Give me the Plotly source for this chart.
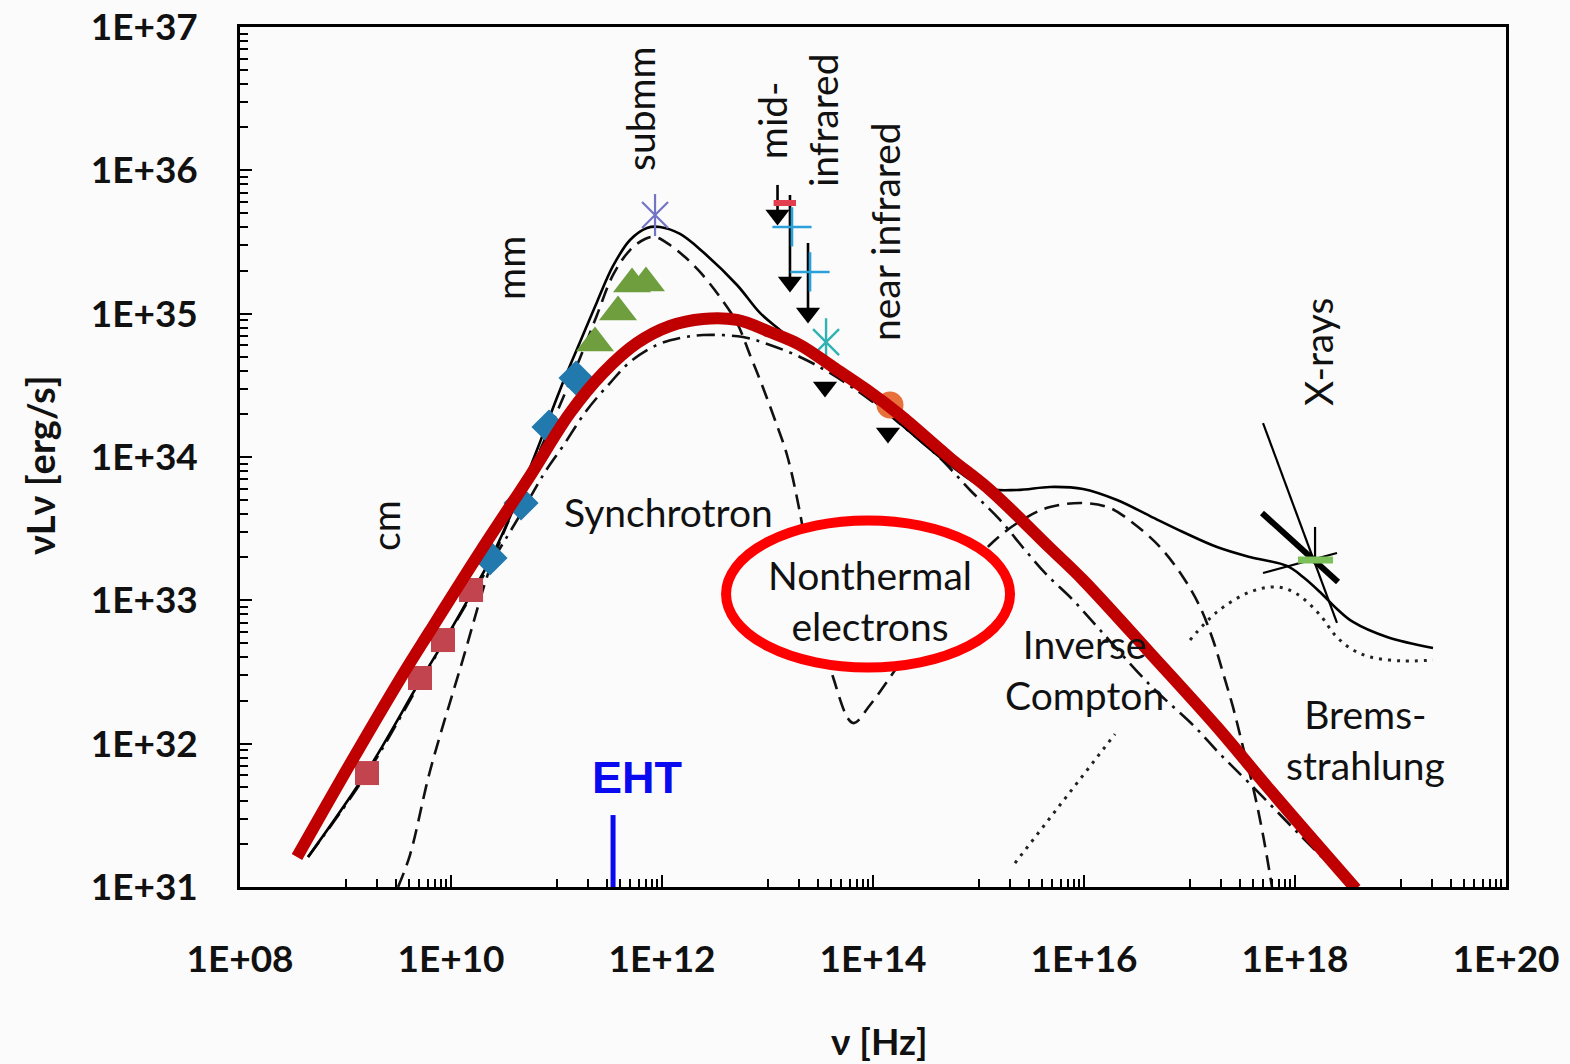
import plotly.graph_objects as go

# ---------------- spectral model curves: log10(nu/Hz), log10(nuLnu / erg s^-1) ----------------
total_lognu = [8.645, 9.213, 9.706, 9.924, 10.180, 10.370, 10.607, 10.815, 11.033, 11.223, 11.384,
               11.536, 11.697, 11.858, 11.981, 12.171, 12.389, 12.711, 12.929, 13.118, 13.308, 13.592,
               13.972, 14.351, 14.730, 15.062, 15.365, 15.678, 15.991, 16.313, 16.626, 16.938, 17.261,
               17.573, 17.924, 18.076, 18.237, 18.398, 18.550, 18.872, 19.308]
total_logL = [31.209, 31.816, 32.437, 32.702, 33.030, 33.281, 33.665, 34.049, 34.468, 34.802, 35.082,
              35.333, 35.514, 35.598, 35.605, 35.556, 35.430, 35.200, 35.005, 34.886, 34.768, 34.621,
              34.412, 34.174, 33.944, 33.784, 33.770, 33.791, 33.777, 33.700, 33.588, 33.477, 33.372,
              33.302, 33.240, 33.163, 33.058, 32.940, 32.849, 32.744, 32.667]

# nonthermal-electron synchrotron (dash-dot)
nonth_lognu = [8.645, 9.213, 9.706, 10.180, 10.654, 10.891, 11.062, 11.289, 11.507, 11.697, 11.953,
               12.171, 12.389, 12.768, 13.024, 13.308, 13.592, 13.972, 14.351, 14.635, 14.919, 15.204,
               15.441, 15.649, 15.896, 16.152, 16.626, 17.052, 17.270, 17.555, 18.047, 18.427]
nonth_logL = [31.209, 31.802, 32.423, 33.016, 33.595, 33.895, 34.077, 34.328, 34.516, 34.663, 34.782,
              34.830, 34.851, 34.837, 34.782, 34.698, 34.586, 34.398, 34.174, 33.993, 33.770, 33.561,
              33.351, 33.177, 33.002, 32.793, 32.409, 32.116, 31.942, 31.733, 31.363, 31.084]

# thermal synchrotron + inverse Compton (dashed)
therm_lognu = [9.498, 9.611, 9.801, 10.114, 10.370, 10.626, 10.844, 11.033, 11.223, 11.384, 11.536,
               11.697, 11.839, 11.934, 12.076, 12.218, 12.360, 12.550, 12.711, 12.834, 12.948, 13.071,
               13.185, 13.308, 13.450, 13.621, 13.810, 13.972, 14.190, 14.635, 15.137, 15.460, 15.678,
               15.991, 16.246, 16.464, 16.720, 16.938, 17.100, 17.223, 17.318, 17.412, 17.507, 17.602,
               17.697, 17.782]
therm_logL = [31.000, 31.223, 31.809, 32.591, 33.226, 33.693, 34.049, 34.363, 34.691, 34.991, 35.270,
              35.444, 35.521, 35.535, 35.479, 35.395, 35.291, 35.116, 34.935, 34.712, 34.502, 34.258,
              34.014, 33.609, 33.002, 32.465, 32.144, 32.270, 32.493, 32.967, 33.407, 33.581, 33.651,
              33.679, 33.644, 33.540, 33.372, 33.163, 32.954, 32.723, 32.493, 32.256, 31.977, 31.698,
              31.363, 31.000]

# bremsstrahlung (dotted)
brems_lognu = [15.346, 16.294, None, 17.005, 17.261, 17.573, 17.829, 18.019, 18.237, 18.379,
               18.521, 18.711, 19.024, 19.308]
brems_logL = [31.167, 32.067, None, 32.723, 32.919, 33.058, 33.093, 33.044, 32.898, 32.758,
              32.667, 32.605, 32.577, 32.584]

# simple nonthermal-electron spectrum overlay (thick red)
overlay_lognu = [8.540, 9.043, 9.517, 9.801, 10.275, 10.749, 11.128, 11.441, 11.763, 12.076, 12.389,
                 12.711, 13.024, 13.308, 13.621, 13.943, 14.256, 14.730, 15.109, 15.678, 15.991,
                 16.626, 17.261, 17.763, 18.578]
overlay_logL = [31.209, 31.858, 32.451, 32.786, 33.337, 33.868, 34.307, 34.586, 34.795, 34.914, 34.963,
                34.956, 34.872, 34.782, 34.628, 34.468, 34.293, 33.993, 33.770, 33.365, 33.142,
                32.633, 32.116, 31.677, 30.986]

# ---------------- observations ----------------
cm_lognu = [9.204, 9.706, 9.924, 10.190]
cm_logL = [31.795, 32.458, 32.723, 33.072]

mm_lognu = [10.370, 10.664, 10.929, 11.185]
mm_logL = [33.295, 33.679, 34.209, 34.551]

submm_lognu = [11.365, 11.583, 11.716, 11.848]
submm_logL = [34.795, 35.012, 35.207, 35.214]

far_ir_lognu = [11.934]
far_ir_logL = [35.688]

# infrared upper limits: triangle position and top of the arrow stem
ul_lognu = [13.095, 13.213, 13.384, 13.545, 14.142]
ul_logL = [35.688, 35.221, 35.005, 34.488, 34.168]
ul_stem_top = [35.898, 35.828, 35.493, None, None]

mir_plus_lognu = [13.232, 13.403]
mir_plus_logL = [35.605, 35.291]

mir_dash_lognu = [13.164]
mir_dash_logL = [35.772]

nir_star_lognu = [13.555]
nir_star_logL = [34.802]

nir_dot_lognu = [14.161]
nir_dot_logL = [34.363]

# X-ray power-law bowtie segments: (lognu0, lognu1), (logL0, logL1)
xray_thin_lognu = [[17.697, 18.398], [17.697, 18.398], [18.190, 18.190]]
xray_thin_logL = [[34.237, 32.842], [33.191, 33.330], [33.512, 33.281]]
xray_thick_lognu = [17.687, 18.408]
xray_thick_logL = [33.609, 33.128]
xray_flux_lognu = [18.028, 18.360]
xray_flux_logL = [33.281, 33.281]

# EHT observing frequency
eht_lognu = 11.536
eht_logL = [31.0, 31.502]

x_tick_exp = [8, 10, 12, 14, 16, 18, 20]
y_tick_exp = [31, 32, 33, 34, 35, 36, 37]


def p10(vals):
    return [None if v is None else 10.0 ** v for v in vals]


BG = "#fbfbfc"
LABEL_FONT = "Lato, 'Open Sans', sans-serif"

fig = go.Figure()

fig.add_trace(go.Scatter(x=p10(brems_lognu), y=p10(brems_logL), mode="lines",
                         line=dict(color="#222", width=3, dash="3px,6px", shape="spline"),
                         connectgaps=False))
fig.add_trace(go.Scatter(x=p10(nonth_lognu), y=p10(nonth_logL), mode="lines",
                         line=dict(color="#111", width=2.6, dash="18px,7px,3px,7px", shape="spline")))
fig.add_trace(go.Scatter(x=p10(therm_lognu), y=p10(therm_logL), mode="lines",
                         line=dict(color="#111", width=2.6, dash="15px,8px", shape="spline")))
fig.add_trace(go.Scatter(x=p10(total_lognu), y=p10(total_logL), mode="lines",
                         line=dict(color="#000", width=2.6, shape="spline")))

# X-ray bowtie
for xs, ys in zip(xray_thin_lognu, xray_thin_logL):
    fig.add_trace(go.Scatter(x=p10(xs), y=p10(ys), mode="lines", line=dict(color="#000", width=2.2)))
fig.add_trace(go.Scatter(x=p10(xray_thick_lognu), y=p10(xray_thick_logL), mode="lines",
                         line=dict(color="#000", width=6)))
fig.add_trace(go.Scatter(x=p10(xray_flux_lognu), y=p10(xray_flux_logL), mode="lines",
                         line=dict(color="#7cc05a", width=7)))


def open_marker(symbol, size, color, width):
    return dict(symbol=symbol, size=size, color=color, line=dict(color=color, width=width))


# data points
fig.add_trace(go.Scatter(x=p10(cm_lognu), y=p10(cm_logL), mode="markers",
                         marker=dict(symbol="square", size=24, color="#c2444f")))
fig.add_trace(go.Scatter(x=p10(mm_lognu), y=p10(mm_logL), mode="markers",
                         marker=dict(symbol="diamond", size=27, color="#2279ad")))
fig.add_trace(go.Scatter(x=p10(submm_lognu), y=p10(submm_logL), mode="markers",
                         marker=dict(symbol="triangle-up", size=33, color="#6e9e3e")))
fig.add_trace(go.Scatter(x=p10(far_ir_lognu), y=p10(far_ir_logL), mode="markers",
                         marker=open_marker("x-thin-open", 26, "#7474c4", 2.2)))
fig.add_trace(go.Scatter(x=p10(far_ir_lognu), y=p10(far_ir_logL), mode="markers",
                         marker=open_marker("line-ns-open", 30, "#7474c4", 2.2)))

stem_x, stem_y = [], []
for lx, ly, top in zip(ul_lognu, ul_logL, ul_stem_top):
    if top is not None:
        stem_x += [10.0 ** lx, 10.0 ** lx, None]
        stem_y += [10.0 ** top, 10.0 ** ly, None]
fig.add_trace(go.Scatter(x=stem_x, y=stem_y, mode="lines", line=dict(color="#000", width=2.6)))
fig.add_trace(go.Scatter(x=p10(ul_lognu), y=p10(ul_logL), mode="markers",
                         marker=dict(symbol="triangle-down", size=21, color="#000")))
fig.add_trace(go.Scatter(x=p10(mir_plus_lognu), y=p10(mir_plus_logL), mode="markers",
                         marker=open_marker("cross-thin-open", 28, "#2a9fd8", 2.6)))
fig.add_trace(go.Scatter(x=p10(mir_dash_lognu), y=p10(mir_dash_logL), mode="markers",
                         marker=open_marker("line-ew-open", 16, "#e23e50", 6)))
fig.add_trace(go.Scatter(x=p10(nir_star_lognu), y=p10(nir_star_logL), mode="markers",
                         marker=open_marker("x-thin-open", 26, "#2fb2b2", 2.4)))
fig.add_trace(go.Scatter(x=p10(nir_star_lognu), y=p10(nir_star_logL), mode="markers",
                         marker=open_marker("line-ns-open", 34, "#2fb2b2", 2.4)))
fig.add_trace(go.Scatter(x=p10(nir_dot_lognu), y=p10(nir_dot_logL), mode="markers",
                         marker=dict(symbol="circle", size=27, color="#e8703a")))

# EHT frequency marker
fig.add_trace(go.Scatter(x=[10.0 ** eht_lognu] * 2, y=p10(eht_logL), mode="lines",
                         line=dict(color="#0a0af0", width=5)))

# thick red overlay spectrum
fig.add_trace(go.Scatter(x=p10(overlay_lognu), y=p10(overlay_logL), mode="lines",
                         line=dict(color="#c00000", width=12, shape="spline")))

# highlight ring around the nonthermal-electrons label
fig.add_shape(type="circle", xref="x", yref="y",
              x0=10.0 ** 12.607, x1=10.0 ** 15.299, y0=10.0 ** 32.531, y1=10.0 ** 33.557,
              line=dict(color="#ff0000", width=10), fillcolor=BG, layer="above")

labels = [
    ("cm", 9.374, 33.526, -90),
    ("mm", 10.559, 35.319, -90),
    ("submm", 11.791, 36.435, -90),
    ("mid-<br>infrared", 13.28, 36.351, -90),
    ("near infrared", 14.114, 35.570, -90),
    ("X-rays", 18.218, 34.733, -90),
    ("Synchrotron", 12.057, 33.616, 0),
    ("Nonthermal<br>electrons", 13.972, 33.0, 0),
    ("Inverse<br>Compton", 16.009, 32.514, 0),
    ("Brems-<br>strahlung", 18.664, 32.03, 0),
]
for text, lx, ly, ang in labels:
    fig.add_annotation(x=lx, y=ly, xref="x", yref="y", text=text, showarrow=False,
                       textangle=ang, xanchor="center", yanchor="middle",
                       font=dict(family=LABEL_FONT, size=39, color="#111"))

fig.add_annotation(x=11.763, y=31.767, xref="x", yref="y", text="<b>EHT</b>", showarrow=False,
                   xanchor="center", yanchor="middle",
                   font=dict(family="Liberation Sans, Arial, sans-serif", size=45, color="#0a0af0"))

# axis titles
fig.add_annotation(x=-0.158, y=0.4907, xref="paper", yref="paper", text="<b>νLν [erg/s]</b>",
                   showarrow=False, textangle=-90, xanchor="center", yanchor="middle",
                   font=dict(family=LABEL_FONT, size=38, color="#111"))
fig.add_annotation(x=0.5055, y=-0.178, xref="paper", yref="paper", text="<b>ν [Hz]</b>",
                   showarrow=False, xanchor="center", yanchor="middle",
                   font=dict(family=LABEL_FONT, size=37, color="#111"))

x_minor = [k * 10.0 ** d for d in range(9, 20, 2) for k in range(1, 10)]
y_minor = [k * 10.0 ** d for d in range(31, 37) for k in range(2, 10)]

tickfont = dict(family=LABEL_FONT, size=37, color="#111", weight="bold")
axis_common = dict(type="log", showgrid=False, zeroline=False, showline=True, linecolor="#000",
                   linewidth=2.5, mirror=True, ticks="inside", tickcolor="#000", tickwidth=2,
                   ticklen=12, tickfont=tickfont, automargin=False)

fig.update_xaxes(range=[8, 20], tickvals=[10.0 ** e for e in x_tick_exp],
                 ticktext=[f"1E+{e:02d}" for e in x_tick_exp], ticklabelstandoff=38,
                 minor=dict(tickmode="array", tickvals=x_minor, ticks="inside", ticklen=8,
                            tickwidth=2, tickcolor="#000", showgrid=False),
                 **axis_common)
fig.update_yaxes(range=[31, 37], tickvals=[10.0 ** e for e in y_tick_exp],
                 ticktext=[f"1E+{e:02d}" for e in y_tick_exp], ticklabelstandoff=32,
                 minor=dict(tickmode="array", tickvals=y_minor, ticks="inside", ticklen=8,
                            tickwidth=2, tickcolor="#000", showgrid=False),
                 **axis_common)

fig.update_layout(width=1570, height=1064, margin=dict(l=240, r=64, t=27, b=177),
                  paper_bgcolor=BG, plot_bgcolor=BG, showlegend=False)

fig.write_html("out.html")
